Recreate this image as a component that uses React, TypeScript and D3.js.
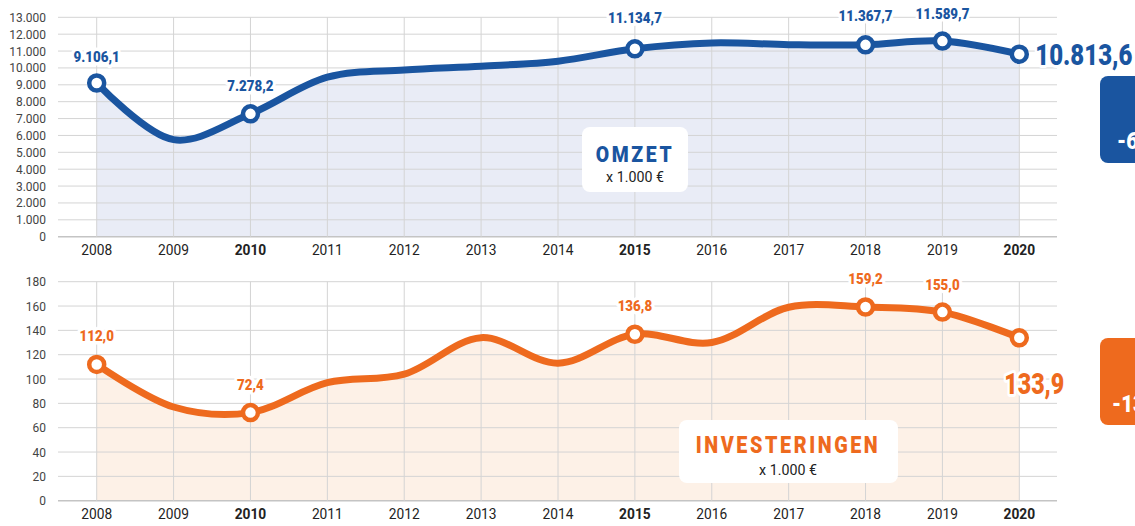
import React from "react";
import * as d3 from "d3";

const years = [2008, 2009, 2010, 2011, 2012, 2013, 2014, 2015, 2016, 2017, 2018, 2019, 2020];
const boldYears = [2010, 2015, 2020];
const omzet = [9106.1, 5750, 7278.2, 9450, 9880, 10100, 10400, 11134.7, 11480, 11380, 11367.7, 11589.7, 10813.6];
const investeringen = [112.0, 77, 72.4, 97, 104, 134, 113, 136.8, 130, 159, 159.2, 155.0, 133.9];
const omzetMarked = [2008, 2010, 2015, 2018, 2019, 2020];
const invMarked = [2008, 2010, 2015, 2018, 2019, 2020];
const omzetTicks = [0, 1000, 2000, 3000, 4000, 5000, 6000, 7000, 8000, 9000, 10000, 11000, 12000, 13000];
const invTicks = [0, 20, 40, 60, 80, 100, 120, 140, 160, 180];
const omzetLabels = ["9.106,1", "7.278,2", "11.134,7", "11.367,7", "11.589,7", "10.813,6"];
const invLabels = ["112,0", "72,4", "136,8", "159,2", "155,0", "133,9"];
const omzetChange = "-6,7%";
const invChange = "-13,6%";

const BLUE = "#1a55a0";
const ORANGE = "#ee6a1e";
const GRID = "#d4d4d4";
const FONT = "Roboto, 'Noto Sans', sans-serif";

const x = d3.scaleLinear().domain([2008, 2020]).range([96.7, 1019.3]);
const yTop = d3.scaleLinear().domain([0, 13000]).range([236.7, 17.3]);
const yBot = d3.scaleLinear().domain([0, 180]).range([500.7, 281.7]);

function T({ x, y, sx = 0.85, children, ...rest }: any) {
  return (
    <g transform={`translate(${x},${y}) scale(${sx},1)`}>
      <text x={0} y={0} fontFamily={FONT} {...rest}>{children}</text>
    </g>
  );
}

function Panel({ values, y, ticks, color, fill, tickFmt, marked, labels, labelDy, bigIdx, bigPos, bigAnchor, bigSize }: any) {
  const [y0, y1] = y.range();
  const line = d3.line<number>().x((_, i) => x(years[i])).y((d) => y(d)).curve(d3.curveCatmullRom.alpha(0.5));
  const area = d3.area<number>().x((_, i) => x(years[i])).y0(y0).y1((d) => y(d)).curve(d3.curveCatmullRom.alpha(0.5));
  return (
    <g>
      <path d={area(values) || ""} fill={fill} />
      {ticks.map((t: number) => (
        <line key={"h" + t} x1={58} x2={1057} y1={y(t)} y2={y(t)} stroke={t === 0 ? "#c4c4c4" : GRID} strokeWidth={t === 0 ? 1.5 : 1} />
      ))}
      {years.map((yr) => (
        <line key={"v" + yr} x1={x(yr)} x2={x(yr)} y1={y1} y2={y0} stroke={GRID} strokeWidth={1} />
      ))}
      {ticks.map((t: number) => (
        <T key={"t" + t} x={46} y={y(t) + 4.5} sx={0.92} textAnchor="end" fontSize={13} fill="#444">
          {tickFmt(t)}
        </T>
      ))}
      {years.map((yr) => (
        <T key={"x" + yr} x={x(yr)} y={y0 + 18} sx={0.95} textAnchor="middle" fontSize={14.5}
          fontWeight={boldYears.includes(yr) ? 700 : 400} fill="#222">
          {yr}
        </T>
      ))}
      <path d={line(values) || ""} fill="none" stroke={color} strokeWidth={7} strokeLinecap="round" />
      {marked.map((yr: number, k: number) => {
        const i = years.indexOf(yr);
        const isBig = k === bigIdx;
        if (isBig) {
          return (
            <T key={"l" + yr} x={x(yr) + bigPos[0]} y={y(values[i]) + bigPos[1]} sx={0.8} textAnchor={bigAnchor}
              fontWeight={900} fontSize={bigSize} fill={color} stroke="#fff" strokeWidth={6}
              paintOrder="stroke" strokeLinejoin="round">
              {labels[k]}
            </T>
          );
        }
        return (
          <T key={"l" + yr} x={x(yr)} y={y(values[i]) + labelDy[k]} sx={0.86} textAnchor="middle"
            fontWeight={900} fontSize={15.5} fill={color} stroke="#fff" strokeWidth={7} paintOrder="stroke" strokeLinejoin="round">
            {labels[k]}
          </T>
        );
      })}
      {marked.map((yr: number) => {
        const i = years.indexOf(yr);
        return <circle key={"c" + yr} cx={x(yr)} cy={y(values[i])} r={7.5} fill="#fff" stroke={color} strokeWidth={4.5} />;
      })}
    </g>
  );
}

export default function App() {
  const fmtTop = (t: number) => (t === 0 ? "0" : d3.format(",")(t).replace(/,/g, "."));
  return (
    <svg width={1135} height={526} style={{ position: "absolute", left: 0, top: 0, background: "#fff" }}>
      <Panel values={omzet} y={yTop} ticks={omzetTicks} color={BLUE} fill="#e9ecf6" tickFmt={fmtTop}
        marked={omzetMarked} labels={omzetLabels} labelDy={[-21, -23, -26, -24, -22, 0]} bigIdx={5}
        bigPos={[16, 11]} bigAnchor="start" bigSize={30} />
      <Panel values={investeringen} y={yBot} ticks={invTicks} color={ORANGE} fill="#fdf1e7" tickFmt={(t: number) => String(t)}
        marked={invMarked} labels={invLabels} labelDy={[-23, -23, -23, -23, -22, 0]} bigIdx={5}
        bigPos={[15, 56]} bigAnchor="middle" bigSize={29} />

      <rect x={582} y={127} width={106} height={65} rx={8} fill="#fff" />
      <T x={635} y={162} sx={0.88} textAnchor="middle" fontWeight={900} fontSize={22} fill={BLUE} letterSpacing={3}>OMZET</T>
      <T x={635} y={182} sx={0.95} textAnchor="middle" fontSize={15} fill="#222">x 1.000 €</T>

      <rect x={679} y={420} width={219} height={63} rx={8} fill="#fff" />
      <T x={788} y={453} sx={0.86} textAnchor="middle" fontWeight={900} fontSize={23} fill={ORANGE} letterSpacing={3}>INVESTERINGEN</T>
      <T x={788} y={475} sx={0.95} textAnchor="middle" fontSize={15} fill="#222">x 1.000 €</T>

      <rect x={1100} y={76} width={80} height={87} rx={8} fill={BLUE} />
      <T x={1117} y={149} sx={0.85} fontWeight={900} fontSize={24} fill="#fff">{omzetChange}</T>
      <rect x={1100} y={338} width={80} height={87} rx={8} fill={ORANGE} />
      <T x={1112} y={412} sx={0.85} fontWeight={900} fontSize={24} fill="#fff">{invChange}</T>
    </svg>
  );
}
